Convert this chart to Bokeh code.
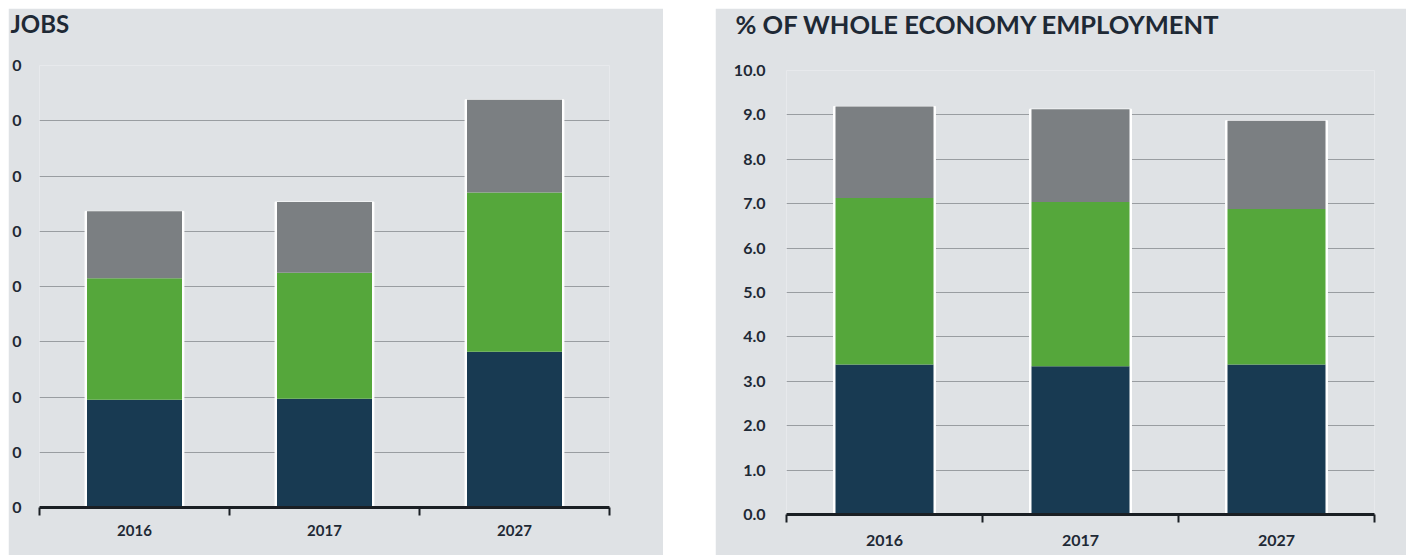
from bokeh.plotting import figure
from bokeh.models import ColumnDataSource, FixedTicker, Range1d, Title, Spacer
from bokeh.layouts import row, column
from bokeh.embed import file_html
from bokeh.resources import INLINE

# ---- data ----
years = ["2016", "2017", "2027"]
segments = ["base", "middle", "top"]
jobs_navy = [195, 197, 282]
jobs_green = [220, 228, 288]
jobs_gray = [121, 128, 168]
jobs_ticks = [0, 100, 200, 300, 400, 500, 600, 700, 800]
jobs_tick_labels = ["0", "0", "0", "0", "0", "0", "0", "0", "0"]  # labels are cut off at the page edge
share_navy = [3.38, 3.34, 3.38]
share_green = [3.75, 3.70, 3.50]
share_gray = [2.06, 2.09, 1.99]
share_ticks = [0.0, 1.0, 2.0, 3.0, 4.0, 5.0, 6.0, 7.0, 8.0, 9.0, 10.0]
share_tick_labels = ["0.0", "1.0", "2.0", "3.0", "4.0", "5.0", "6.0", "7.0", "8.0", "9.0", "10.0"]

BG = "#dfe2e5"
NAVY = "#183a52"
GREEN = "#55a73b"
GRAY = "#7b7f82"
TEXT = "#1e2935"
FONT = "Lato"


def make_panel(title, navy, green, gray, yticks, ylabels, ymax, width, height,
               bl, br, bb, title_dx, gap, title_size, ylab_size, ylab_standoff,
               xlab_size, xlab_standoff):
    xs = [i + 0.5 for i in range(len(years))]
    totals = [a + b + c for a, b, c in zip(navy, green, gray)]
    src = ColumnDataSource(dict(x=xs, base=navy, middle=green, top=gray, total=totals))
    p = figure(width=width, height=height, output_backend="svg", toolbar_location=None,
               x_range=Range1d(0, len(years)), y_range=Range1d(0, ymax),
               min_border_left=bl, min_border_right=br, min_border_top=0, min_border_bottom=bb)
    p.background_fill_color = BG
    p.border_fill_color = BG
    p.outline_line_color = None

    # heading at the very top, then a thin spacer title next to the frame
    p.title = Title(text=title, align="left", vertical_align="top", offset=title_dx,
                    standoff=0, text_font=FONT, text_font_size=title_size,
                    text_font_style="bold", text_color=TEXT)
    p.add_layout(Title(text=" ", text_font_size="2px", standoff=gap), "above")

    # white halo behind each bar
    p.vbar(x="x", top="total", bottom=0, width=0.52, source=src, color="white")
    p.vbar_stack(segments, x="x", width=0.5, source=src, color=[NAVY, GREEN, GRAY],
                 line_color=None)

    # y axis
    p.yaxis.ticker = FixedTicker(ticks=yticks, minor_ticks=[])
    p.yaxis.major_label_overrides = {v: s for v, s in zip(yticks, ylabels)}
    p.yaxis.axis_line_color = None
    p.yaxis.major_tick_line_color = None
    p.yaxis.major_tick_out = 0
    p.yaxis.major_label_standoff = ylab_standoff
    p.yaxis.major_label_text_font = FONT
    p.yaxis.major_label_text_font_style = "bold"
    p.yaxis.major_label_text_font_size = ylab_size
    p.yaxis.major_label_text_color = TEXT

    p.ygrid.ticker = FixedTicker(ticks=yticks)
    p.ygrid.grid_line_color = "#999da1"
    p.ygrid.grid_line_width = 1
    p.xgrid.grid_line_color = None

    # x axis: labels at centres, separator ticks at category boundaries
    p.xaxis.ticker = FixedTicker(ticks=xs, minor_ticks=list(range(len(years) + 1)))
    p.xaxis.major_label_overrides = {x: y for x, y in zip(xs, years)}
    p.xaxis.major_tick_line_color = None
    p.xaxis.major_tick_out = 0
    p.xaxis.minor_tick_line_color = "#1a1f24"
    p.xaxis.minor_tick_line_width = 2
    p.xaxis.minor_tick_out = 8
    p.xaxis.minor_tick_in = 0
    p.xaxis.axis_line_color = "#1a1f24"
    p.xaxis.axis_line_width = 3
    p.xaxis.major_label_standoff = xlab_standoff
    p.xaxis.major_label_text_font = FONT
    p.xaxis.major_label_text_font_style = "bold"
    p.xaxis.major_label_text_font_size = xlab_size
    p.xaxis.major_label_text_color = TEXT
    return p


left = make_panel("JOBS", jobs_navy, jobs_green, jobs_gray, jobs_ticks, jobs_tick_labels,
                  800, 655, 547, 31, 54, 48, -29, 22, "24px", "16px", 18, "15px", 9)
right = make_panel("% OF WHOLE ECONOMY EMPLOYMENT", share_navy, share_green, share_gray,
                   share_ticks, share_tick_labels, 10.0, 691, 547, 71, 32, 41, -51, 26,
                   "25.5px", "16px", 21, "16px", 12)

layout = column(Spacer(height=8),
                row(Spacer(width=8), column(left), Spacer(width=52), column(right)))
open("out.html", "w").write(file_html(layout, INLINE))
